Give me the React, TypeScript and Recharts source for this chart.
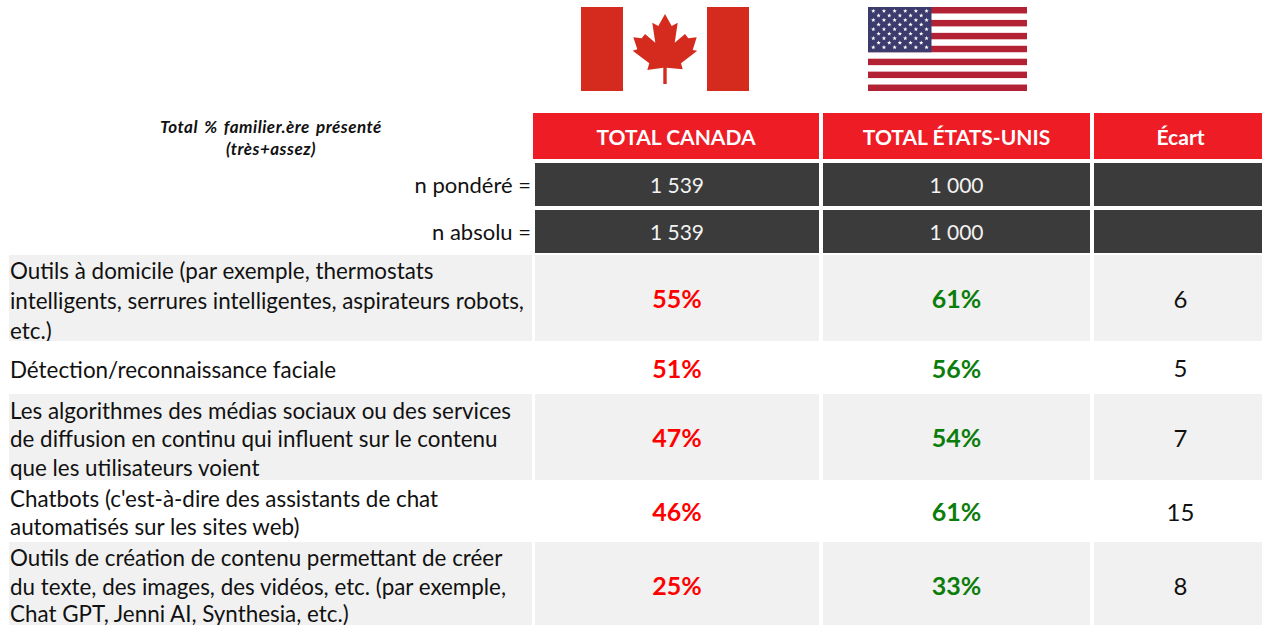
import { ScatterChart, Scatter, XAxis, YAxis } from "recharts";

const FONT = "Lato, Carlito, sans-serif";

const categories = [
  ["Outils à domicile (par exemple, thermostats", "intelligents, serrures intelligentes, aspirateurs robots,", "etc.)"],
  ["Détection/reconnaissance faciale"],
  ["Les algorithmes des médias sociaux ou des services", "de diffusion en continu qui influent sur le contenu", "que les utilisateurs voient"],
  ["Chatbots (c'est-à-dire des assistants de chat", "automatisés sur les sites web)"],
  ["Outils de création de contenu permettant de créer", "du texte, des images, des vidéos, etc. (par exemple,", "Chat GPT, Jenni AI, Synthesia, etc.)"],
];
const canada = [55, 51, 47, 46, 25];
const usa = [61, 56, 54, 61, 33];
const ecart = [6, 5, 7, 15, 8];
const headers = ["TOTAL CANADA", "TOTAL ÉTATS-UNIS", "Écart"];
const baseLabels = ["n pondéré =", "n absolu ="];
const baseCanada = ["1 539", "1 539"];
const baseUsa = ["1 000", "1 000"];
const note = ["Total % familier.ère présenté", "(très+assez)"];

// table layout, in pixels of the axes
const columns = [
  { left: 535, right: 819 },
  { left: 823, right: 1090 },
  { left: 1094, right: 1267 },
];
const baseRows = [
  { top: 163, bottom: 206 },
  { top: 210, bottom: 253 },
];
const rows = [
  { top: 255, bottom: 341, shaded: true, lines: [270, 300, 330] },
  { top: 341, bottom: 394, shaded: false, lines: [369] },
  { top: 394, bottom: 480, shaded: true, lines: [410, 438, 467] },
  { top: 480, bottom: 542, shaded: false, lines: [498, 526] },
  { top: 542, bottom: 628, shaded: true, lines: [557, 586, 613] },
];

const centre = (a: number, b: number) => (a + b) / 2;

const cellsFor = (col: number, values: string[], color: string, weight: number, size: number) =>
  values.map((text, i) => ({
    x: centre(columns[col].left, columns[col].right),
    y: centre(rows[i].top, rows[i].bottom),
    w: columns[col].right - columns[col].left,
    h: rows[i].bottom - rows[i].top,
    fill: rows[i].shaded ? "#f1f1f1" : "#ffffff",
    text,
    color,
    weight,
    size,
  }));

const baseCells = (col: number, values: string[]) =>
  values.map((text, i) => ({
    x: centre(columns[col].left, columns[col].right),
    y: centre(baseRows[i].top, baseRows[i].bottom),
    w: columns[col].right - columns[col].left,
    h: baseRows[i].bottom - baseRows[i].top,
    fill: "#3b3b3b",
    text,
    color: "#f2f2f2",
    weight: 400,
    size: 21,
  }));

const headerCells = headers.map((text, i) => {
  const left = i === 0 ? 533 : columns[i].left;
  return {
    x: centre(left, columns[i].right),
    y: 136,
    w: columns[i].right - left,
    h: 46,
    fill: "#ee1c25",
    text,
    color: "#ffffff",
    weight: 700,
    size: 21,
  };
});

const Cell = ({ cx, cy, payload }: any) => {
  const { w, h, fill, text, color, weight, size } = payload;
  return (
    <g>
      <rect x={cx - w / 2} y={cy - h / 2} width={w} height={h} fill={fill} />
      <text x={cx} y={cy} textAnchor="middle" dominantBaseline="central" fontFamily={FONT} fontSize={size} fontWeight={weight} fill={color}>
        {text}
      </text>
    </g>
  );
};

const rowLabelData = rows.map((r, i) => ({ x: 9, y: centre(r.top, r.bottom), w: 523, h: r.bottom - r.top, shaded: r.shaded, lines: r.lines, label: categories[i] }));

const RowLabel = ({ cx, cy, payload }: any) => (
  <g>
    <rect x={cx} y={cy - payload.h / 2} width={payload.w} height={payload.h} fill={payload.shaded ? "#f1f1f1" : "#ffffff"} />
    {payload.label.map((line: string, i: number) => (
      <text key={i} x={cx + 1} y={payload.lines[i]} dominantBaseline="central" fontFamily={FONT} fontSize={22.4} fill="#111">
        {line}
      </text>
    ))}
  </g>
);

const baseLabelData = baseLabels.map((label, i) => ({ x: 531, y: centre(baseRows[i].top, baseRows[i].bottom), label }));

const BaseLabel = ({ cx, cy, payload }: any) => (
  <text x={cx} y={cy} textAnchor="end" dominantBaseline="central" fontFamily={FONT} fontSize={22} fill="#111">
    {payload.label}
  </text>
);

const noteData = note.map((label, i) => ({ x: 271, y: 126 + i * 22, label }));

const NoteLabel = ({ cx, cy, payload }: any) => (
  <text x={cx} y={cy} textAnchor="middle" dominantBaseline="central" fontFamily={FONT} fontSize={17} fontWeight={700} fontStyle="italic" wordSpacing={2} letterSpacing={0.5} fill="#111">
    {payload.label}
  </text>
);

const leaf =
  "84,7 90.7,19 96.7,15.7 93.7,35.7 104,27 107.3,31.3 115.7,30.3 111.7,43 116.3,43.7 100,56.3 101.7,62.3 85.7,60.7 85.7,77 82.3,77 82.3,60.7 66.3,63 68.3,56.3 51.7,43.7 56.3,42.3 52.3,30.3 60.7,31.3 64,27 74.3,35.7 71.3,15.7 77.3,19";

const CanadaFlag = ({ cx, cy }: any) => (
  <g transform={`translate(${cx - 84},${cy - 42})`}>
    <rect width={168} height={84} fill="#ffffff" />
    <rect width={42} height={84} fill="#d52b1e" />
    <rect x={126} width={42} height={84} fill="#d52b1e" />
    <polygon points={leaf} fill="#d52b1e" />
  </g>
);

const star = (x: number, y: number, r: number) => {
  const pts: string[] = [];
  for (let i = 0; i < 10; i++) {
    const a = -Math.PI / 2 + (i * Math.PI) / 5;
    const d = i % 2 === 0 ? r : r * 0.42;
    pts.push(`${x + d * Math.cos(a)},${y + d * Math.sin(a)}`);
  }
  return pts.join(" ");
};

const UsaFlag = ({ cx, cy }: any) => {
  const stripe = 84 / 13;
  const stars = [];
  for (let row = 0; row < 9; row++) {
    const count = row % 2 === 0 ? 6 : 5;
    for (let c = 0; c < count; c++) {
      stars.push(<polygon key={`${row}-${c}`} points={star((row % 2 === 0 ? 5.3 : 10.6) + c * 10.65, 4 + row * 4.55, 2.3)} fill="#ffffff" />);
    }
  }
  return (
    <g transform={`translate(${cx - 79.5},${cy - 42})`}>
      <rect width={159} height={84} fill="#ffffff" />
      {Array.from({ length: 7 }, (_, i) => (
        <rect key={i} y={i * 2 * stripe} width={159} height={stripe} fill="#b22234" />
      ))}
      <rect width={63.5} height={stripe * 7} fill="#3c3b6e" />
      {stars}
    </g>
  );
};

export default function App() {
  return (
    <div style={{ position: "absolute", left: 0, top: 0 }}>
      <ScatterChart width={1262} height={625} margin={{ top: 0, right: 0, bottom: 0, left: 0 }}>
        <XAxis type="number" dataKey="x" domain={[0, 1262]} hide />
        <YAxis type="number" dataKey="y" domain={[0, 625]} reversed hide />
        <Scatter data={[{ x: 665, y: 49 }]} shape={<CanadaFlag />} isAnimationActive={false} />
        <Scatter data={[{ x: 947.5, y: 49 }]} shape={<UsaFlag />} isAnimationActive={false} />
        <Scatter data={noteData} shape={<NoteLabel />} isAnimationActive={false} />
        <Scatter data={baseLabelData} shape={<BaseLabel />} isAnimationActive={false} />
        <Scatter data={rowLabelData} shape={<RowLabel />} isAnimationActive={false} />
        <Scatter data={headerCells} shape={<Cell />} isAnimationActive={false} />
        <Scatter data={baseCells(0, baseCanada)} shape={<Cell />} isAnimationActive={false} />
        <Scatter data={baseCells(1, baseUsa)} shape={<Cell />} isAnimationActive={false} />
        <Scatter data={baseCells(2, ["", ""])} shape={<Cell />} isAnimationActive={false} />
        <Scatter name="Canada" data={cellsFor(0, canada.map((v) => `${v}%`), "#ff0000", 700, 25)} shape={<Cell />} isAnimationActive={false} />
        <Scatter name="États-Unis" data={cellsFor(1, usa.map((v) => `${v}%`), "#0a7d0a", 700, 25)} shape={<Cell />} isAnimationActive={false} />
        <Scatter name="Écart" data={cellsFor(2, ecart.map(String), "#111111", 400, 24)} shape={<Cell />} isAnimationActive={false} />
      </ScatterChart>
    </div>
  );
}
